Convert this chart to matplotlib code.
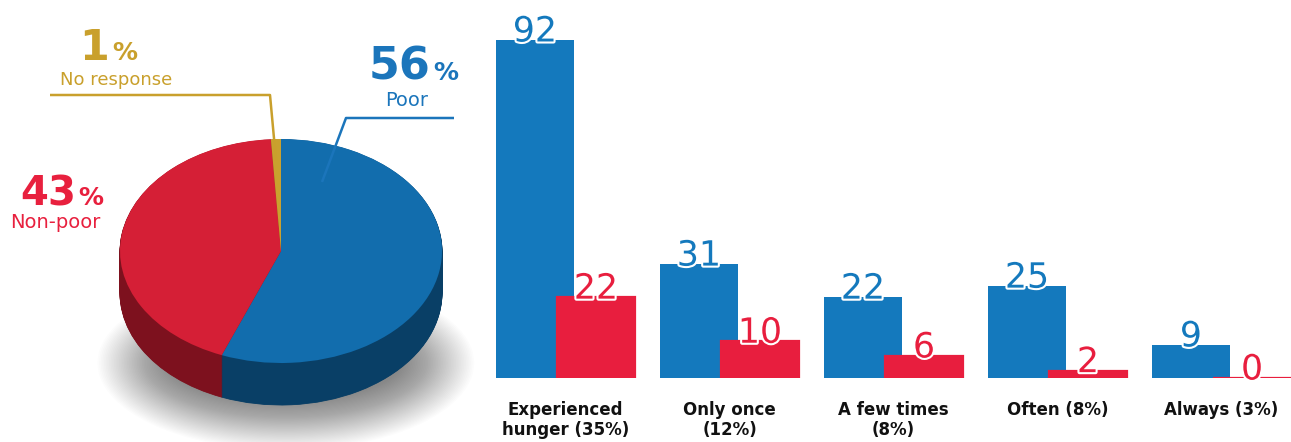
import numpy as np
import matplotlib
matplotlib.use("Agg")
import matplotlib.pyplot as plt
from matplotlib.patches import Ellipse
import matplotlib.patheffects as pe

# ---------------- data ----------------
pie_labels = ["Poor", "Non-poor", "No response"]
pie_values = [56, 43, 1]

categories = ["Experienced\nhunger (35%)", "Only once\n(12%)", "A few times\n(8%)",
              "Often (8%)", "Always (3%)"]
poor_vals = [92, 31, 22, 25, 9]
nonpoor_vals = [22, 10, 6, 2, 0]

# ---------------- style ----------------
W, H = 1291, 442
BLUE_BAR = "#1479BD"
RED_BAR = "#E81E3E"
PIE_TOP = ["#126DAD", "#D51F36", "#C9A12E"]
PIE_SIDE = ["#093F66", "#7D111E", "#8A6C1A"]
TXT_BLUE = "#1B75BB"
TXT_RED = "#E8203E"
TXT_GOLD = "#C9A02C"
plt.rcParams["font.family"] = ["DejaVu Sans"]

fig = plt.figure(figsize=(W / 100, H / 100), dpi=100)

# ---------------- 3D pie ----------------
axp = fig.add_axes([0, 0, 480 / W, 1])
cx, cy = 281, 251          # px centre of top ellipse
a_px, b_px = 161, 112      # semi axes
depth = 42 / b_px          # thickness in y-units

# soft shadow under the pie
nsh = 45
for i in range(nsh):
    t = i / (nsh - 1)
    sx = 1.17 - 0.45 * t
    sy = 0.78 - 0.45 * t
    axp.add_patch(Ellipse((0.03, -1.0), 2 * sx, 2 * sy,
                          facecolor="black", edgecolor="none", alpha=0.013, zorder=0))

nlay = 60
for k in range(nlay, 0, -1):
    off = -depth * k / nlay
    axp.pie(pie_values, colors=PIE_SIDE, startangle=90, counterclock=False,
            center=(0, off), radius=1, wedgeprops=dict(linewidth=0.6),
            frame=True)
    for w, c in zip(axp.patches[-3:], PIE_SIDE):
        w.set_edgecolor(c)
axp.pie(pie_values, colors=PIE_TOP, startangle=90, counterclock=False,
        center=(0, 0), radius=1, wedgeprops=dict(linewidth=0), frame=True)
axp.set_aspect("auto")
axp.set_xlim(-cx / a_px, (480 - cx) / a_px)
axp.set_ylim(-(H - cy) / b_px, cy / b_px)
axp.axis("off")

# ---------------- bars ----------------
bar_left, base_px, top_px = 480, 378, 40
axb = fig.add_axes([bar_left / W, (H - base_px) / H, (W - bar_left) / W, base_px / H])
unit = 164.0
g0 = 565.5
x = np.arange(len(categories))
bw = 78 / unit
off = 61 / unit
axb.bar(x - off / 2, poor_vals, width=bw, color=BLUE_BAR, zorder=2)
axb.bar(x + off / 2, nonpoor_vals, width=bw, color=RED_BAR, zorder=3,
        edgecolor=RED_BAR, linewidth=1.6)
axb.set_xlim(-(g0 - bar_left) / unit, (W - g0) / unit)
ymax = max(poor_vals) * base_px / (base_px - top_px)
axb.set_ylim(0, ymax)
axb.axis("off")
stroke = [pe.withStroke(linewidth=3, foreground="white")]
for xi, v in zip(x, poor_vals):
    axb.text(xi - off / 2, v - 0.4, str(v), ha="center", va="baseline", fontsize=25,
             color=BLUE_BAR, zorder=5, path_effects=stroke)
for xi, v in zip(x, nonpoor_vals):
    axb.text(xi + off / 2, v - 0.4, str(v), ha="center", va="baseline", fontsize=25,
             color=RED_BAR, zorder=5, path_effects=stroke)
for xi, lab in zip(x, categories):
    axb.text(xi, -6.3, lab, ha="center", va="top", fontsize=12, color="#111111",
             fontweight="bold", linespacing=1.1, clip_on=False)

# ---------------- overlay for pie labels ----------------
axo = fig.add_axes([0, 0, 1, 1], zorder=10)
axo.set_xlim(0, W)
axo.set_ylim(H, 0)
axo.axis("off")

# Poor
axo.text(431, 80, f"{pie_values[0]}", ha="right", va="baseline", fontsize=32,
         fontweight="bold", color=TXT_BLUE)
axo.text(433, 80, "%", ha="left", va="baseline", fontsize=18, fontweight="bold", color=TXT_BLUE)
axo.text(407, 106, pie_labels[0], ha="center", va="baseline", fontsize=14, color=TXT_BLUE)
axo.plot([454, 346, 322], [118, 118, 182], color=TXT_BLUE, lw=1.8, solid_capstyle="butt")
# Non-poor
axo.text(76, 205, f"{pie_values[1]}", ha="right", va="baseline", fontsize=29,
         fontweight="bold", color=TXT_RED)
axo.text(78, 205, "%", ha="left", va="baseline", fontsize=18, fontweight="bold", color=TXT_RED)
axo.text(55, 228, pie_labels[1], ha="center", va="baseline", fontsize=14, color=TXT_RED)
# No response
axo.text(109, 60, f"{pie_values[2]}", ha="right", va="baseline", fontsize=31,
         fontweight="bold", color=TXT_GOLD)
axo.text(112, 60, "%", ha="left", va="baseline", fontsize=18, fontweight="bold", color=TXT_GOLD)
axo.text(116, 85, pie_labels[2], ha="center", va="baseline", fontsize=13, color=TXT_GOLD)
axo.plot([50, 270, 276], [95, 95, 160], color=TXT_GOLD, lw=1.8, solid_capstyle="butt")

fig.savefig("out.png", dpi=100, facecolor="white")
